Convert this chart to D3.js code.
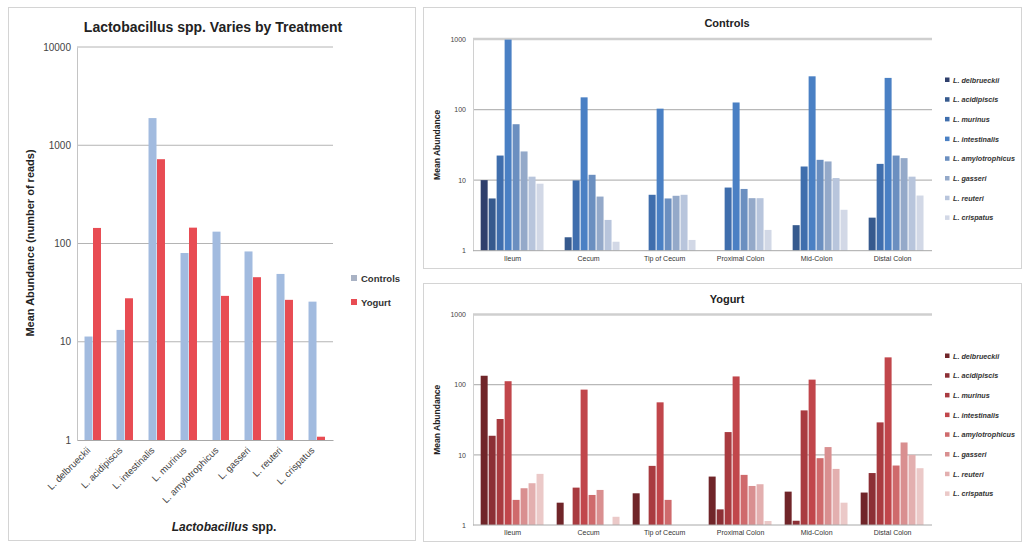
<!DOCTYPE html>
<html>
<head>
<meta charset="utf-8">
<script src="https://cdn.jsdelivr.net/npm/d3@7"></script>
<style>
  html, body { margin: 0; padding: 0; background: #fff; }
  svg { display: block; font-family: "Liberation Sans", Arial, sans-serif; }
</style>
</head>
<body>
<svg id="fig" width="1026" height="542"></svg>
<script>
// ---- Overall mean abundance per species (left chart) ----
const species = ["L. delbrueckii", "L. acidipiscis", "L. intestinalis", "L. murinus",
                 "L. amylotrophicus", "L. gasseri", "L. reuteri", "L. crispatus"];
const controlsMean = [11.3, 13.2, 1890, 80, 132, 83, 49, 25.6];
const yogurtMean   = [144, 27.7, 721, 145, 29.3, 45.4, 26.7, 1.08];
const treatments = ["Controls", "Yogurt"];
const overallTicks = [1, 10, 100, 1000, 10000];

// ---- Mean abundance by gut site (right charts) ----
const sites = ["Ileum", "Cecum", "Tip of Cecum", "Proximal Colon", "Mid-Colon", "Distal Colon"];
const siteSpecies = ["L. delbrueckii", "L. acidipiscis", "L. murinus", "L. intestinalis",
                     "L. amylotrophicus", "L. gasseri", "L. reuteri", "L. crispatus"];
// one row per site, values in siteSpecies order (null = not detected)
const controlsBySite = [
  [10,   5.5,  22.3, 980, 62,   25.5, 11.2, 8.9],
  [null, 1.55, 9.9,  149, 11.9, 5.85, 2.73, 1.34],
  [null, null, 6.2,  103, 5.5,  6.0,  6.2,  1.42],
  [null, null, 7.85, 126, 7.5,  5.55, 5.55, 1.97],
  [null, 2.3,  15.6, 296, 19.4, 18.4, 10.7, 3.8],
  [null, 2.94, 17,   281, 22.3, 20.5, 11.2, 6.05]
];
const yogurtBySite = [
  [134,  18.7, 32.4, 112, 2.28, 3.34, 3.94, 5.35],
  [2.08, null, 3.41, 85,  2.68, 3.16, null, 1.31],
  [2.83, null, 6.96, 56,  2.28, null, null, null],
  [4.9,  1.67, 21.1, 131, 5.18, 3.6,  3.81, 1.14],
  [2.99, 1.15, 43,   118, 8.96, 12.9, 6.3,  2.08],
  [2.9,  5.5,  29,   245, 7.04, 15,   10,   6.45]
];
const siteTicks = [1, 10, 100, 1000];

const blues = ["#2f3f6c", "#365a8e", "#3f6ead", "#4a80c4", "#6b8fc0", "#94a9c9", "#b8c5dc", "#d2d8e6"];
const reds  = ["#702529", "#8c2f35", "#a93b40", "#c1464b", "#cf6a6c", "#d98f90", "#e3afaf", "#ebc9c8"];
const treatmentColors = ["#a2bbdf", "#e84c53"];

const svg = d3.select("#fig");

// ================= Left chart =================
(function drawOverall() {
  const g = svg.append("g");
  g.append("rect").attr("x", 8.5).attr("y", 7.5).attr("width", 407).attr("height", 533)
    .attr("fill", "none").attr("stroke", "#d4d4d4");

  const x0 = d3.scaleBand().domain(species).range([77, 333]).paddingInner(0.47).paddingOuter(0.235);
  const x1 = d3.scaleBand().domain(treatments).range([0, x0.bandwidth()]);
  const y = d3.scaleLog().domain([1, 10000]).range([440, 47]);

  // gridlines
  g.append("g").selectAll("line").data(overallTicks.slice(1)).join("line")
    .attr("x1", 77).attr("x2", 333)
    .attr("y1", d => y(d)).attr("y2", d => y(d))
    .attr("stroke", "#b4b4b4").attr("stroke-width", 1);

  // y axis
  const yAxis = d3.axisLeft(y).tickValues(overallTicks).tickFormat(d3.format("d")).tickSize(0).tickPadding(6);
  const ya = g.append("g").attr("transform", "translate(77,0)").call(yAxis);
  ya.select(".domain").attr("stroke", "#c4c4c4");
  ya.selectAll("text").attr("font-size", 10).attr("fill", "#444");

  // bars
  const rows = species.map((s, i) => ({ s, vals: [controlsMean[i], yogurtMean[i]] }));
  g.append("g").selectAll("g").data(rows).join("g")
    .attr("transform", d => `translate(${x0(d.s)},0)`)
    .selectAll("rect").data(d => d.vals.map((v, j) => ({ v, t: treatments[j], j })))
    .join("rect")
    .attr("x", d => x1(d.t))
    .attr("width", x1.bandwidth() - 0.5)
    .attr("y", d => y(d.v))
    .attr("height", d => y(1) - y(d.v))
    .attr("fill", d => treatmentColors[d.j]);

  // x axis baseline + labels
  const xAxis = d3.axisBottom(x0).tickSize(0).tickPadding(0);
  const xa = g.append("g").attr("transform", `translate(0,${y(1)})`).call(xAxis);
  xa.select(".domain").attr("stroke", "#a8a8a8");
  xa.selectAll("text")
    .attr("font-size", 9.5).attr("fill", "#444")
    .attr("text-anchor", "end").attr("dy", 0)
    .attr("transform", "translate(-2,11) rotate(-45)");

  // titles
  g.append("text").attr("x", 213).attr("y", 32).attr("text-anchor", "middle")
    .attr("font-size", 14).attr("font-weight", "bold").attr("fill", "#222")
    .text("Lactobacillus spp. Varies by Treatment");

  g.append("text").attr("transform", "translate(34,243) rotate(-90)")
    .attr("text-anchor", "middle").attr("font-size", 11).attr("font-weight", "bold").attr("fill", "#222")
    .text("Mean Abundance (number of reads)");

  const xt = g.append("text").attr("x", 224).attr("y", 531).attr("text-anchor", "middle")
    .attr("font-size", 12).attr("font-weight", "bold").attr("fill", "#222");
  xt.append("tspan").attr("font-style", "italic").text("Lactobacillus");
  xt.append("tspan").text(" spp.");

  // legend
  const lg = g.append("g").selectAll("g").data(treatments).join("g")
    .attr("transform", (d, i) => `translate(351,${278 + i * 24})`);
  lg.append("rect").attr("x", 0).attr("y", -3).attr("width", 6).attr("height", 6)
    .attr("fill", (d, i) => i === 0 ? "#a9b2c4" : treatmentColors[1]);
  lg.append("text").attr("x", 10).attr("y", 3.5).attr("font-size", 9.5).attr("font-weight", "bold")
    .attr("fill", "#333").text(d => d);
})();

// ================= Right charts =================
function drawSites(opts) {
  const { top, bottom, title, titleY, data, colors, frameY, frameH } = opts;
  const g = svg.append("g");
  g.append("rect").attr("x", 423.5).attr("y", frameY + 0.5).attr("width", 598).attr("height", frameH)
    .attr("fill", "none").attr("stroke", "#d4d4d4");

  const x0 = d3.scaleBand().domain(sites).range([474.6, 930.6]).paddingInner(0.16).paddingOuter(0.08);
  const x1 = d3.scaleBand().domain(siteSpecies).range([0, x0.bandwidth()]);
  const y = d3.scaleLog().domain([1, 1000]).range([bottom, top]);

  g.append("g").selectAll("line").data(siteTicks.slice(1)).join("line")
    .attr("x1", 473).attr("x2", 932)
    .attr("y1", d => y(d)).attr("y2", d => y(d))
    .attr("stroke", d => d === 1000 ? "#cfcfcf" : "#b8b8b8")
    .attr("stroke-width", d => d === 1000 ? 2.5 : 1.2);

  const yAxis = d3.axisLeft(y).tickValues(siteTicks).tickFormat(d3.format("d")).tickSize(0).tickPadding(7);
  const ya = g.append("g").attr("transform", "translate(473,0)").call(yAxis);
  ya.select(".domain").attr("stroke", "#d0d0d0");
  ya.selectAll("text").attr("font-size", 7).attr("fill", "#444");

  const rows = sites.map((s, i) => ({ s, vals: data[i] }));
  g.append("g").selectAll("g").data(rows).join("g")
    .attr("transform", d => `translate(${x0(d.s)},0)`)
    .selectAll("rect")
    .data(d => d.vals.map((v, j) => ({ v, sp: siteSpecies[j], j })).filter(d => d.v != null))
    .join("rect")
    .attr("x", d => x1(d.sp))
    .attr("width", x1.bandwidth() - 1)
    .attr("y", d => y(d.v))
    .attr("height", d => y(1) - y(d.v))
    .attr("fill", d => colors[d.j]);

  const xAxis = d3.axisBottom(x0).tickSize(0).tickPadding(5);
  const xa = g.append("g").attr("transform", `translate(0,${y(1)})`).call(xAxis);
  xa.select(".domain").attr("stroke", "#a8a8a8").attr("d", `M${473 - x0.range()[0] + x0.range()[0]},0H932`);
  xa.selectAll("text").attr("font-size", 7).attr("fill", "#333");

  g.append("text").attr("x", 727).attr("y", titleY).attr("text-anchor", "middle")
    .attr("font-size", 11).attr("font-weight", "bold").attr("fill", "#222").text(title);

  g.append("text").attr("transform", `translate(440,${(top + bottom) / 2}) rotate(-90)`)
    .attr("text-anchor", "middle").attr("font-size", 8.5).attr("font-weight", "bold").attr("fill", "#222")
    .text("Mean Abundance");

  const lg = g.append("g").selectAll("g").data(siteSpecies).join("g")
    .attr("transform", (d, i) => `translate(945,${opts.legendY + i * 19.7})`);
  lg.append("rect").attr("x", 0).attr("y", -2.5).attr("width", 4.5).attr("height", 4.5)
    .attr("fill", (d, i) => colors[i]);
  lg.append("text").attr("x", 8).attr("y", 2.5).attr("font-size", 7.2).attr("font-weight", "bold")
    .attr("font-style", "italic").attr("fill", "#333").text(d => d);
}

drawSites({ top: 39, bottom: 250.7, title: "Controls", titleY: 27, data: controlsBySite, colors: blues,
            frameY: 7, frameH: 261, legendY: 80 });
drawSites({ top: 314.5, bottom: 525, title: "Yogurt", titleY: 303, data: yogurtBySite, colors: reds,
            frameY: 283, frameH: 258, legendY: 356 });
</script>
</body>
</html>
